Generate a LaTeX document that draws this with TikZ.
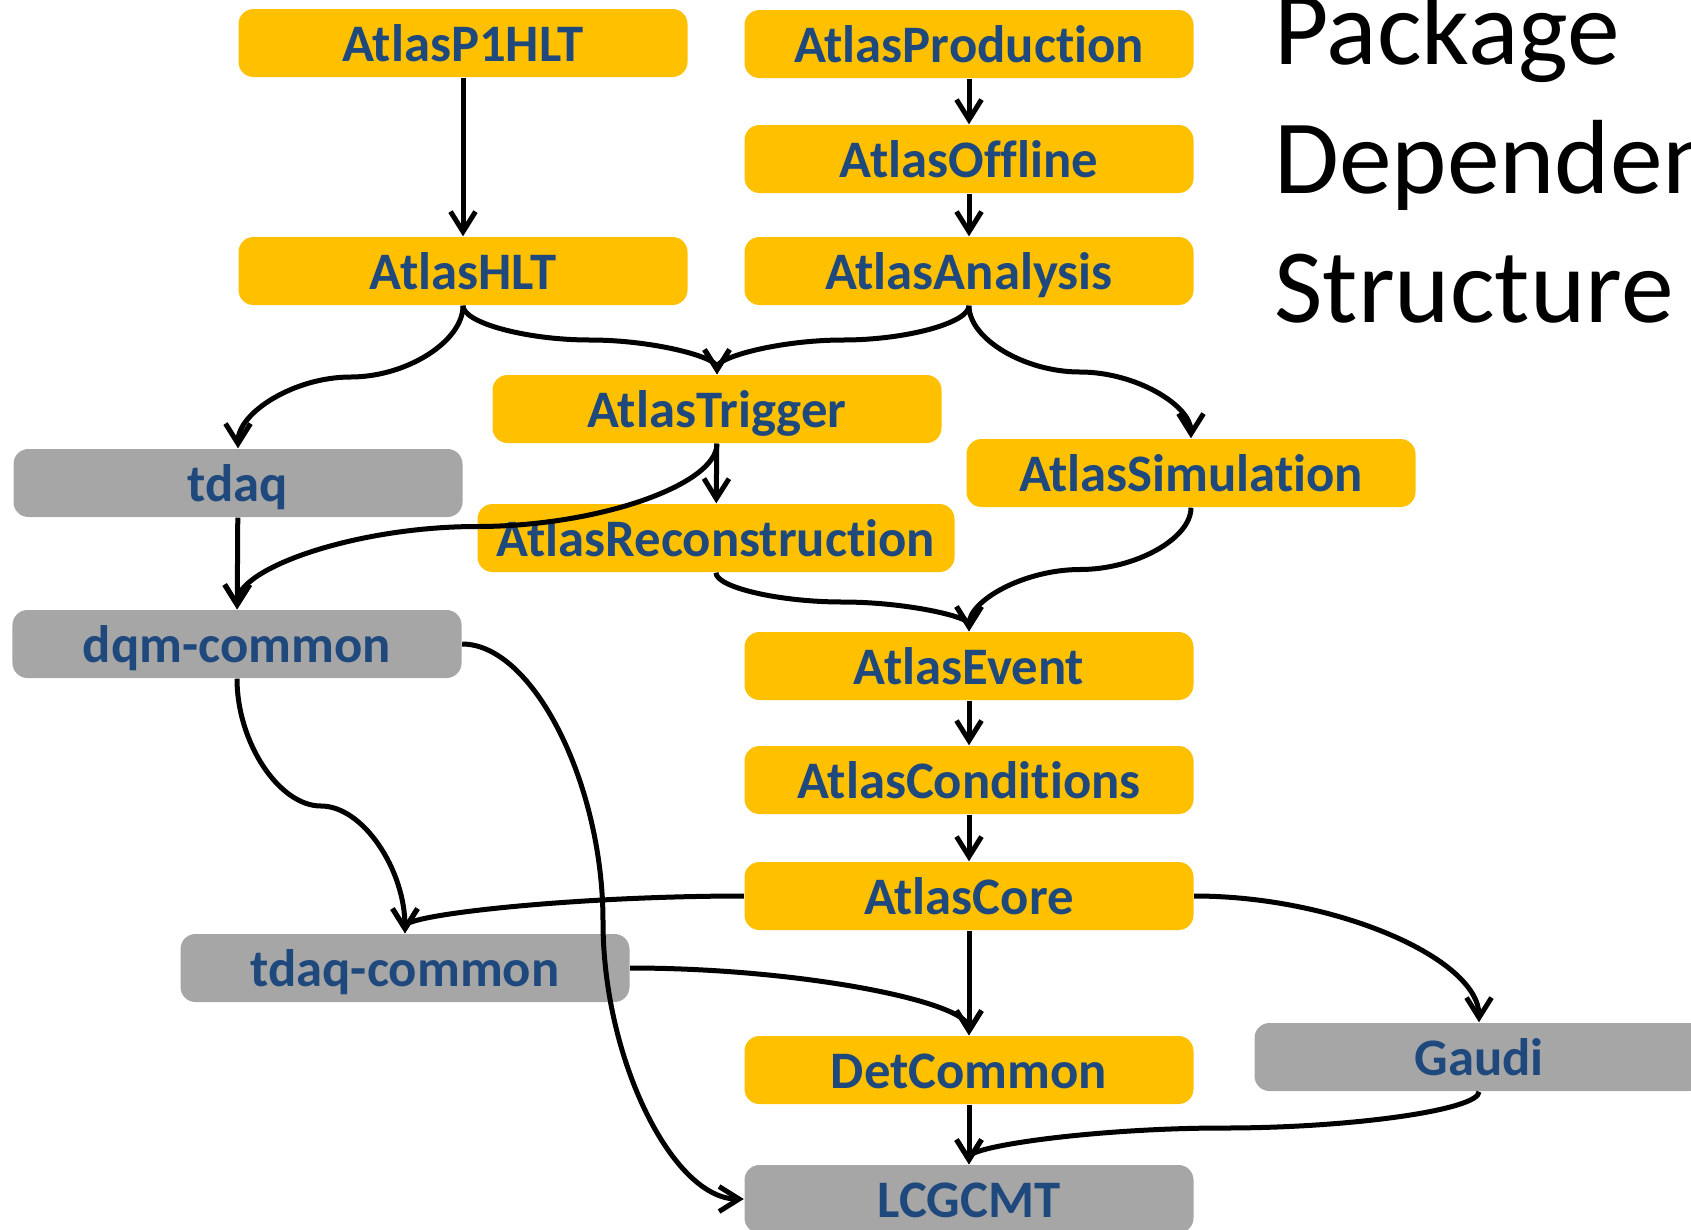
\documentclass[tikz,border=0pt]{standalone}
\usepackage{fontspec}
\setmainfont{Carlito}[Ligatures=NoCommon]
\usepackage{xcolor}
\usepackage{tikz}
\usetikzlibrary{arrows.meta, calc}

\definecolor{atlasgold}{HTML}{FFC000}
\definecolor{extgray}{HTML}{A6A6A6}
\definecolor{pkgblue}{HTML}{1F497D}

\begin{document}
\begin{tikzpicture}[
    pkg/.style={rectangle, rounded corners=0.15cm, minimum width=4.49cm, minimum height=0.68cm,
        inner sep=0pt, text height=0.5cm, text depth=0.14cm, text=pkgblue,
        font=\fontsize{15}{18}\selectfont\bfseries},
    atlas/.style={pkg, fill=atlasgold},
    ext/.style={pkg, fill=extgray},
    dep/.style={line width=0.05cm, -{Straight Barb[length=0.2cm, width=0.25cm]}},
    % vertical S: down, sideways at half height, down again
    vcurve/.style={to path={let \p1=(\tikztostart), \p2=(\tikztotarget) in
        .. controls (\x1,{0.75*\y1+0.25*\y2}) and ({0.75*\x1+0.25*\x2},{0.5*\y1+0.5*\y2}) ..
        ({0.5*\x1+0.5*\x2},{0.5*\y1+0.5*\y2})
        .. controls ({0.25*\x1+0.75*\x2},{0.5*\y1+0.5*\y2}) and (\x2,{0.25*\y1+0.75*\y2}) ..
        (\tikztotarget) \tikztonodes}},
    % horizontal S: across, down at half width, across again
    hcurve/.style={to path={let \p1=(\tikztostart), \p2=(\tikztotarget) in
        .. controls ({0.75*\x1+0.25*\x2},\y1) and ({0.5*\x1+0.5*\x2},{0.75*\y1+0.25*\y2}) ..
        ({0.5*\x1+0.5*\x2},{0.5*\y1+0.5*\y2})
        .. controls ({0.5*\x1+0.5*\x2},{0.25*\y1+0.75*\y2}) and ({0.25*\x1+0.75*\x2},\y2) ..
        (\tikztotarget) \tikztonodes}},
    % from a side into a top
    hvcurve/.style={to path={let \p1=(\tikztostart), \p2=(\tikztotarget) in
        .. controls ({0.5*\x1+0.5*\x2},\y1) and (\x2,{0.5*\y1+0.5*\y2}) ..
        (\tikztotarget) \tikztonodes}}
]
    \useasboundingbox (0,0) rectangle (16.91,-12.29);

    % Top level projects
    \node[atlas] (p1hlt) at (4.63,-0.43) {AtlasP1HLT};
    \node[atlas] (production) at (9.69,-0.44) {AtlasProduction};
    \node[atlas] (offline) at (9.69,-1.59) {AtlasOffline};
    \node[atlas] (hlt) at (4.63,-2.71) {AtlasHLT};
    \node[atlas] (analysis) at (9.69,-2.71) {AtlasAnalysis};

    % Middle projects
    \node[atlas] (trigger) at (7.17,-4.09) {AtlasTrigger};
    \node[atlas] (simulation) at (11.91,-4.73) {AtlasSimulation};
    \node[atlas, minimum width=4.77cm] (reco) at (7.16,-5.38) {AtlasReconstruction};
    \node[atlas] (event) at (9.69,-6.66) {AtlasEvent};
    \node[atlas] (conditions) at (9.69,-7.80) {AtlasConditions};
    \node[atlas] (core) at (9.69,-8.96) {AtlasCore};
    \node[atlas] (detcommon) at (9.69,-10.70) {DetCommon};

    % External projects
    \node[ext] (tdaq) at (2.38,-4.83) {tdaq};
    \node[ext] (dqm) at (2.37,-6.44) {dqm-common};
    \node[ext] (tdaqcommon) at (4.05,-9.68) {tdaq-common};
    \node[ext] (gaudi) at (14.79,-10.57) {Gaudi};
    \node[ext] (lcgcmt) at (9.69,-11.99) {LCGCMT};

    % Title
    \node[anchor=base west, align=left, font=\fontsize{30}{36.6}\selectfont] (title) at (12.62,-3.22)
        {Package\\Dependency\\Structure};

    % Straight dependencies
    \draw[dep] (p1hlt) -- (hlt);
    \draw[dep] (production) -- (offline);
    \draw[dep] (offline) -- (analysis);
    \draw[dep] (trigger) -- (reco);
    \draw[dep] (tdaq) -- (dqm);
    \draw[dep] (event) -- (conditions);
    \draw[dep] (conditions) -- (core);
    \draw[dep] (core) -- (detcommon);
    \draw[dep] (detcommon) -- (lcgcmt);

    % Curved dependencies
    \draw[dep] (hlt.south) to[vcurve] (tdaq.north);
    \draw[dep] (hlt.south) to[vcurve] (trigger.north);
    \draw[dep] (analysis.south) to[vcurve] (trigger.north);
    \draw[dep] (analysis.south) to[vcurve] (simulation.north);
    \draw[dep] (trigger.south) to[vcurve] (dqm.north);
    \draw[dep] (reco.south) to[vcurve] (event.north);
    \draw[dep] (simulation.south) to[vcurve] (event.north);
    \draw[dep] (dqm.south) to[vcurve] (tdaqcommon.north);
    \draw[dep] (gaudi.south) to[vcurve] (lcgcmt.north);
    \draw[dep] (dqm.east) to[hcurve] (lcgcmt.west);
    \draw[dep] (core.west) to[hvcurve] (tdaqcommon.north);
    \draw[dep] (core.east) to[hvcurve] (gaudi.north);
    \draw[dep] (tdaqcommon.east) to[hvcurve] (detcommon.north);

\end{tikzpicture}
\end{document}
